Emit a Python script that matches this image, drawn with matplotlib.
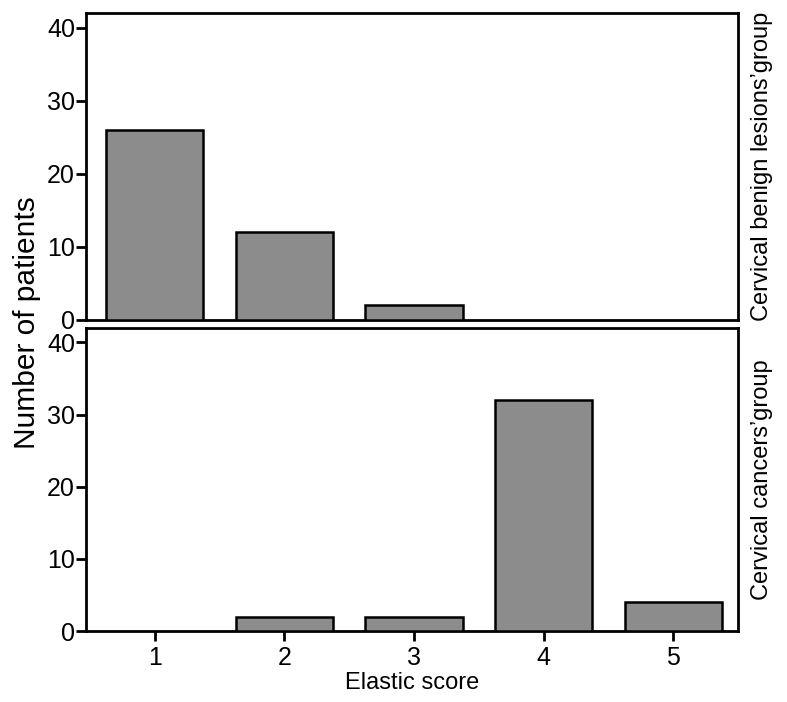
import matplotlib
matplotlib.use("Agg")
import matplotlib.pyplot as plt

scores = [1, 2, 3, 4, 5]
benign_counts = [26, 12, 2, 0, 0]
cancer_counts = [0, 2, 2, 32, 4]
yticks = [0, 10, 20, 30, 40]
benign_label = "Cervical benign lesions\u2019group"
cancer_label = "Cervical cancers\u2019group"

plt.rcParams['font.family'] = ['Liberation Sans', 'DejaVu Sans']

fig = plt.figure(figsize=(7.87, 7.02), dpi=100)
ax1 = fig.add_axes([0.1093, 0.5442, 0.8284, 0.4373])
ax2 = fig.add_axes([0.1093, 0.1011, 0.8284, 0.4317])

for ax, vals, lab in [(ax1, benign_counts, benign_label), (ax2, cancer_counts, cancer_label)]:
    lws = [1.8 if v > 0 else 0 for v in vals]
    ax.bar(scores, vals, width=0.75, color='#8c8c8c', edgecolor='black', linewidth=lws, zorder=3)
    ax.set_xlim(0.47, 5.5)
    ax.set_ylim(0, 42)
    ax.set_yticks(yticks)
    ax.tick_params(axis='y', direction='out', length=7, width=2, labelsize=18, pad=1)
    for s in ax.spines.values():
        s.set_linewidth(2)
    ax.text(1.037, 0.5, lab, transform=ax.transAxes, rotation=90, va='center', ha='center', fontsize=17)

ax1.set_xticks([])
ax2.set_xticks(scores)
ax2.tick_params(axis='x', direction='out', length=7, width=2, labelsize=18, pad=4)
ax2.set_xlabel('Elastic score', fontsize=17, labelpad=1)

fig.text(0.034, 0.54, 'Number of patients', rotation=90, va='center', ha='center', fontsize=21.5)

fig.savefig('out.png', dpi=100)
